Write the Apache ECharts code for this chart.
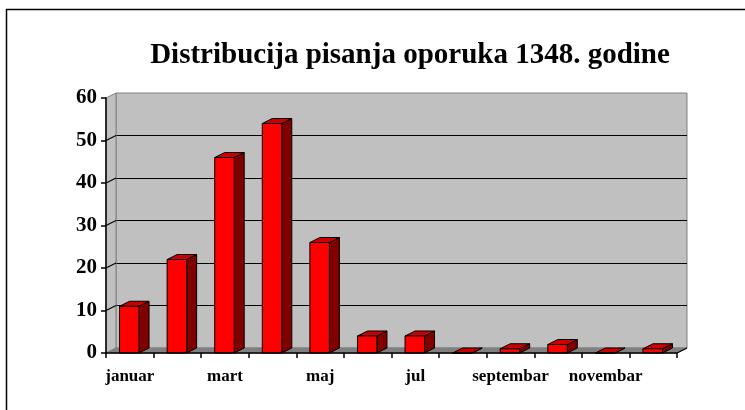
<!DOCTYPE html>
<html>
<head>
<meta charset="utf-8">
<script src="https://cdn.jsdelivr.net/npm/echarts@6/dist/echarts.min.js"></script>
<style>html,body{margin:0;padding:0;background:#fff;}#c{width:745px;height:410px;}</style>
</head>
<body>
<div id="c"></div>
<script>
const titleText = 'Distribucija pisanja oporuka 1348. godine';
const months = ['januar','februar','mart','april','maj','jun','jul','avgust','septembar','oktobar','novembar','decembar'];
const counts = [11, 22, 46, 54, 26, 4, 4, 0, 1, 2, 0, 1];
const yMin = 0, yMax = 60, yStep = 10;
const yTicks = [0, 10, 20, 30, 40, 50, 60];

const DX = 10, DY = 5;
const FONT = '"Liberation Serif","Times New Roman",serif';

const chart = echarts.init(document.getElementById('c'));

function wallsItem(params, api) {
  const cs = params.coordSys;
  const xl = cs.x, xr = cs.x + cs.width, yb = cs.y + cs.height;
  const yt = api.coord([0, yMax])[1];
  const children = [];
  children.push({type:'polygon', shape:{points:[[xl,yt],[xl+DX,yt-DY],[xl+DX,yb-DY],[xl,yb]]},
    style:{fill:'#C0C0C0', stroke:'#808080', lineWidth:1}});
  children.push({type:'polygon', shape:{points:[[xl,yb],[xl+DX,yb-DY],[xr+DX,yb-DY],[xr,yb]]},
    style:{fill:'#808080', stroke:'#808080', lineWidth:1}});
  yTicks.forEach(function(v){
    if (v === yMin || v === yMax) return;
    const y = api.coord([0, v])[1];
    children.push({type:'line', shape:{x1:xl, y1:y, x2:xl+DX, y2:y-DY}, style:{stroke:'#000', lineWidth:1.2}});
  });
  children.push({type:'line', shape:{x1:xr, y1:yb, x2:xr+DX, y2:yb-DY}, style:{stroke:'#000', lineWidth:1.2}});
  return {type:'group', children: children};
}

function barItem(params, api) {
  const idx = api.value(0), v = api.value(1);
  const top = api.coord([idx, v]);
  const base = api.coord([idx, 0]);
  const bw = api.size([1, 0])[0] * 0.41;
  const x0 = top[0] - bw/2 - 0.5, x1 = top[0] + bw/2 - 0.5;
  const yT = top[1], yB = base[1];
  return {type:'group', children:[
    {type:'polygon', shape:{points:[[x1,yT],[x1+DX,yT-DY],[x1+DX,yB-DY],[x1,yB]]},
      style:{fill:'#800000', stroke:'#000', lineWidth:1}},
    {type:'polygon', shape:{points:[[x0,yT],[x0+DX,yT-DY],[x1+DX,yT-DY],[x1,yT]]},
      style:{fill:'#CC0000', stroke:'#000', lineWidth:1}},
    {type:'rect', shape:{x:x0, y:yT, width:bw, height:Math.max(0, yB-yT)},
      style:{fill:'#FF0000', stroke:'#000', lineWidth:1}}
  ]};
}

const option = {
  backgroundColor: '#fff',
  animation: false,
  title: {
    text: titleText, left: 405, top: 36, textAlign: 'center',
    textStyle: {fontFamily: FONT, fontWeight: 'bold', fontSize: 29, color: '#000'}
  },
  graphic: [{type:'rect', left:4, top:7, shape:{width:800, height:450}, style:{fill:'none', stroke:'#000', lineWidth:1.5}, silent:true}],
  grid: [
    {left:106, top:98, right:68, bottom:57},
    {left:116, top:93, right:58, bottom:62, show:true, backgroundColor:'#C0C0C0', borderColor:'#808080', borderWidth:1}
  ],
  xAxis: [
    {type:'category', gridIndex:0, data: months, boundaryGap:true, z:10,
      axisLine:{show:true, lineStyle:{color:'#000', width:1.5}},
      axisTick:{show:true, interval:0, length:5, lineStyle:{color:'#000', width:1.5}},
      axisLabel:{interval:1, margin:15, color:'#000', fontFamily:FONT, fontWeight:'bold', fontSize:17},
      splitLine:{show:false}},
    {type:'category', gridIndex:1, data: months, show:false}
  ],
  yAxis: [
    {type:'value', gridIndex:0, min:yMin, max:yMax, interval:yStep, z:10,
      axisLine:{show:true, lineStyle:{color:'#000', width:1.5}},
      axisTick:{show:true, length:5, lineStyle:{color:'#000', width:1.5}},
      axisLabel:{margin:9, color:'#000', fontFamily:FONT, fontWeight:'bold', fontSize:21},
      splitLine:{show:false}},
    {type:'value', gridIndex:1, min:yMin, max:yMax, interval:yStep,
      axisLine:{show:false}, axisTick:{show:false}, axisLabel:{show:false},
      splitLine:{show:true, showMinLine:false, showMaxLine:false, lineStyle:{color:'#000', width:1.2}}}
  ],
  series: [
    {type:'custom', name:'walls', xAxisIndex:0, yAxisIndex:0, renderItem: wallsItem, data:[[0,0]], z:1, silent:true},
    {type:'custom', name:'oporuke', xAxisIndex:0, yAxisIndex:0, renderItem: barItem,
      data: counts.map(function(v,i){return [i, v];}), encode:{x:0, y:1}, z:3}
  ]
};
chart.setOption(option);
</script>
</body>
</html>
